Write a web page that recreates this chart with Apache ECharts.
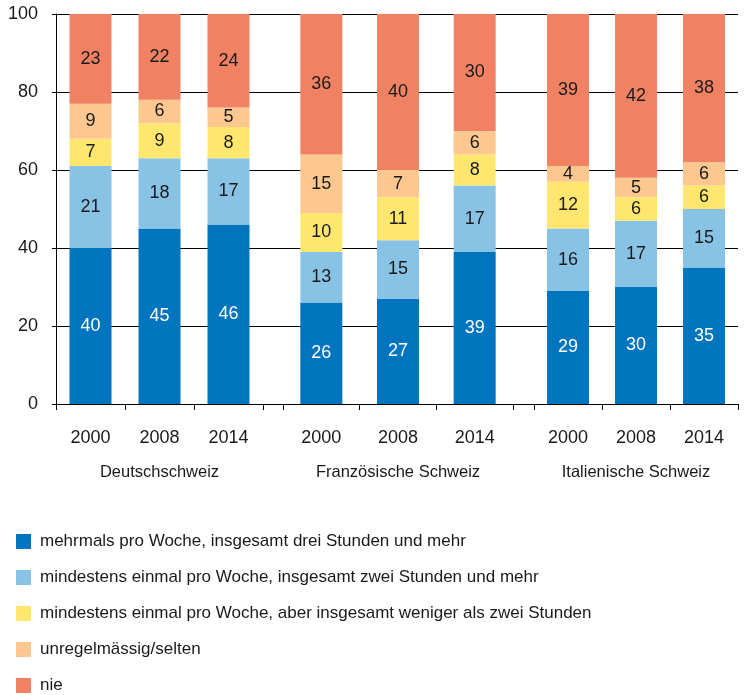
<!DOCTYPE html>
<html>
<head>
<meta charset="utf-8">
<script src="https://cdn.jsdelivr.net/npm/echarts@6/dist/echarts.min.js"></script>
<style>
  html, body { margin: 0; padding: 0; background: #fff; }
  #chart { width: 747px; height: 695px; }
</style>
</head>
<body>
<div id="chart"></div>
<script>
// Daten (Anteile in %), Reihenfolge: Deutschschweiz, Französische Schweiz, Italienische Schweiz je 2000/2008/2014
var regions = ['Deutschschweiz', 'Französische Schweiz', 'Italienische Schweiz'];
var years = ['2000', '2008', '2014'];
var seriesNames = [
  'mehrmals pro Woche, insgesamt drei Stunden und mehr',
  'mindestens einmal pro Woche, insgesamt zwei Stunden und mehr',
  'mindestens einmal pro Woche, aber insgesamt weniger als zwei Stunden',
  'unregelmässig/selten',
  'nie'
];
var mehrmals = [40, 45, 46, 26, 27, 39, 29, 30, 35];
var zweiStunden = [21, 18, 17, 13, 15, 17, 16, 17, 15];
var wenigerZwei = [7, 9, 8, 10, 11, 8, 12, 6, 6];
var selten = [9, 6, 5, 15, 7, 6, 4, 5, 6];
var nie = [23, 22, 24, 36, 40, 30, 39, 42, 38];

var values = [mehrmals, zweiStunden, wenigerZwei, selten, nie];
var colors = ['#0075bf', '#88c3e6', '#ffe76f', '#fdc88f', '#f08263'];
var labelColors = ['#ffffff', '#1a1a1a', '#1a1a1a', '#1a1a1a', '#1a1a1a'];

var FONT = '"Liberation Sans", Arial, sans-serif';
var chart = echarts.init(document.getElementById('chart'));

// Hintergrund-Grid für y-Achse und Gitterlinien, dann je Region ein Grid
var grids = [
  {left: 56, right: 9, top: 14, bottom: 291},
  {left: 56, width: 207, top: 14, bottom: 291},
  {left: 283, width: 230, top: 14, bottom: 291},
  {left: 534, width: 204, top: 14, bottom: 291}
];

var xAxes = [{
  gridIndex: 0, type: 'value', min: 0, max: 1,
  axisLine: {show: true, lineStyle: {color: '#000', width: 1}},
  axisTick: {show: false}, axisLabel: {show: false}, splitLine: {show: false}
}];
var yAxes = [{
  gridIndex: 0, type: 'value', min: 0, max: 100, interval: 20,
  axisLine: {show: true, lineStyle: {color: '#000', width: 1}},
  axisTick: {show: true, length: 4, lineStyle: {color: '#000'}},
  axisLabel: {color: '#1a1a1a', fontSize: 18, fontFamily: FONT, margin: 18},
  splitLine: {show: true, lineStyle: {color: '#000', width: 1}}
}];
var series = [];

regions.forEach(function (reg, r) {
  var g = r + 1;
  xAxes.push({
    gridIndex: g, type: 'category', data: years,
    name: reg, nameLocation: 'middle', nameGap: 60,
    nameTextStyle: {color: '#1a1a1a', fontSize: 16.5, fontFamily: FONT},
    axisLine: {show: false},
    axisTick: {show: true, length: 6, lineStyle: {color: '#000'}},
    axisLabel: {color: '#1a1a1a', fontSize: 18, fontFamily: FONT, margin: 25}
  });
  yAxes.push({gridIndex: g, type: 'value', min: 0, max: 100, show: false});
  values.forEach(function (vals, s) {
    series.push({
      name: seriesNames[s],
      type: 'bar',
      stack: 'r' + r,
      xAxisIndex: g,
      yAxisIndex: g,
      barWidth: 42,
      itemStyle: {color: colors[s]},
      label: {
        show: true, position: 'inside', color: labelColors[s],
        fontSize: 18, fontFamily: FONT
      },
      emphasis: {disabled: true},
      data: vals.slice(r * 3, r * 3 + 3)
    });
  });
});

var option = {
  animation: false,
  color: colors,
  grid: grids,
  xAxis: xAxes,
  yAxis: yAxes,
  legend: {
    data: seriesNames,
    orient: 'vertical',
    left: 11, top: 528, height: 170,
    icon: 'rect', itemWidth: 15, itemHeight: 15, itemGap: 19,
    textStyle: {color: '#1a1a1a', fontSize: 17, lineHeight: 16, fontFamily: FONT, padding: [0, 0, 0, 4]}
  },
  series: series
};
chart.setOption(option);
</script>
</body>
</html>
